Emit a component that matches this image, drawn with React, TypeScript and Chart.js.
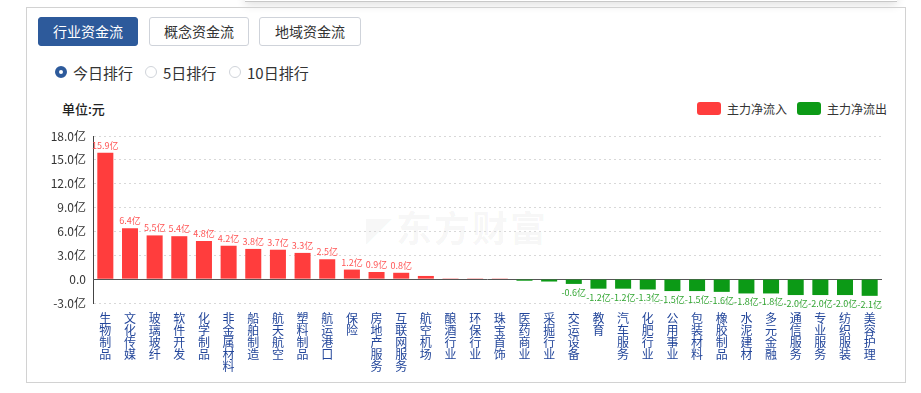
import React, { useEffect, useRef } from "react";
import { Chart, registerables } from "chart.js";

Chart.register(...registerables);

const categories: string[] = [
  "生物制品", "文化传媒", "玻璃玻纤", "软件开发", "化学制品", "非金属材料", "船舶制造", "航天航空",
  "塑料制品", "航运港口", "保险", "房地产服务", "互联网服务", "航空机场", "酿酒行业", "环保行业",
  "珠宝首饰", "医药商业", "采掘行业", "交运设备", "教育", "汽车服务", "化肥行业", "公用事业",
  "包装材料", "橡胶制品", "水泥建材", "多元金融", "通信服务", "专业服务", "纺织服装", "美容护理",
];

// 主力净流入/流出 (亿元)
const netFlows: number[] = [
  15.9, 6.4, 5.5, 5.4, 4.8, 4.2, 3.8, 3.7,
  3.3, 2.5, 1.2, 0.9, 0.8, 0.4, 0.1, 0.1,
  0.03, -0.2, -0.3, -0.6, -1.2, -1.2, -1.3, -1.5,
  -1.5, -1.6, -1.8, -1.8, -2.0, -2.0, -2.0, -2.1,
];

const yMin = -3;
const yMax = 18;
const yStep = 3;

const tabs: string[] = ["行业资金流", "概念资金流", "地域资金流"];
const rankOptions: string[] = ["今日排行", "5日排行", "10日排行"];
const legendItems: string[] = ["主力净流入", "主力净流出"];

const RED = "#ff3d3d";
const GREEN = "#0c9a16";
const FONT = "'Microsoft YaHei', 'Noto Sans CJK SC', sans-serif";

const zeroLinePlugin = {
  id: "zeroLine",
  beforeDatasetsDraw(chart: any) {
    const { ctx, chartArea, scales } = chart;
    const y0 = Math.round(scales.y.getPixelForValue(0)) + 0.5;
    ctx.save();
    ctx.strokeStyle = "#555";
    ctx.lineWidth = 1;
    ctx.beginPath();
    ctx.moveTo(chartArea.left, y0);
    ctx.lineTo(chartArea.right, y0);
    ctx.stroke();
    ctx.restore();
  },
};

const valueLabelPlugin = {
  id: "valueLabels",
  afterDatasetsDraw(chart: any) {
    const ctx = chart.ctx;
    const meta = chart.getDatasetMeta(0);
    ctx.save();
    ctx.font = `9px ${FONT}`;
    ctx.textAlign = "center";
    meta.data.forEach((bar: any, i: number) => {
      const v = netFlows[i];
      if (Math.abs(v) < 0.5) return;
      const text = v.toFixed(1) + "亿";
      if (v > 0) {
        ctx.fillStyle = "#ff5555";
        ctx.textBaseline = "bottom";
        ctx.fillText(text, bar.x, bar.y - 3);
      } else {
        ctx.fillStyle = "#33a633";
        ctx.textBaseline = "top";
        ctx.fillText(text, bar.x, bar.y + 4);
      }
    });
    ctx.restore();
  },
};

function BarChart() {
  const ref = useRef<HTMLCanvasElement | null>(null);
  useEffect(() => {
    if (!ref.current) return;
    Chart.defaults.font.family = FONT;
    const chart = new Chart(ref.current, {
      type: "bar",
      data: {
        labels: categories,
        datasets: [
          {
            data: netFlows,
            backgroundColor: netFlows.map((v) => (v >= 0 ? RED : GREEN)),
            borderWidth: 0,
            categoryPercentage: 1,
            barPercentage: 0.65,
          },
        ],
      },
      options: {
        responsive: false,
        animation: false,
        layout: { padding: { top: 16, right: 22, left: 0, bottom: 0 } },
        plugins: { legend: { display: false }, tooltip: { enabled: false } },
        scales: {
          x: {
            grid: { display: false, drawTicks: false },
            border: { display: false },
            ticks: {
              autoSkip: false,
              maxRotation: 0,
              minRotation: 0,
              padding: 9,
              color: "#23469a",
              font: { size: 12, lineHeight: 1.0 },
              callback: (_v: any, i: number) => categories[i].split(""),
            },
            afterFit: (s: any) => {
              s.height = 78;
            },
          },
          y: {
            min: yMin,
            max: yMax,
            grid: {
              drawTicks: false,
              color: (c: any) => (c.tick && c.tick.value === 0 ? "rgba(0,0,0,0)" : "#d8d8d8"),
            },
            border: { display: true, color: "#444", dash: [2, 3] },
            ticks: {
              stepSize: yStep,
              padding: 7,
              color: "#333",
              font: { size: 12 },
              callback: (v: any) => (v === 0 ? "0.0" : Number(v).toFixed(1) + "亿"),
            },
            afterFit: (s: any) => {
              s.width = 66;
            },
          },
        },
      },
      plugins: [zeroLinePlugin, valueLabelPlugin],
    });
    return () => chart.destroy();
  }, []);
  return <canvas ref={ref} width={877} height={261} style={{ display: "block" }} />;
}

export default function App() {
  return (
    <div
      style={{
        position: "absolute",
        left: 0,
        top: 0,
        width: 921,
        height: 393,
        background: "#fff",
        overflow: "hidden",
        fontFamily: FONT,
        color: "#333",
      }}
    >
      {/* floating element shadow at top */}
      <div
        style={{
          position: "absolute",
          left: 245,
          top: -20,
          width: 652,
          height: 21,
          background: "#fff",
          borderBottom: "1px solid #c8c8c8",
          boxShadow: "0 3px 10px rgba(0,0,0,0.12)",
        }}
      />
      {/* panel */}
      <div
        style={{
          position: "absolute",
          left: 26,
          top: 7,
          width: 878,
          height: 374,
          border: "1px solid #d2d2d2",
          background: "transparent",
        }}
      />
      {/* tabs */}
      {tabs.map((t, i) => {
        const lefts = [38, 149, 259];
        const active = i === 0;
        return (
          <div
            key={t}
            style={{
              position: "absolute",
              left: lefts[i],
              top: 17,
              width: i === 2 ? 102 : 100,
              height: 29,
              boxSizing: "border-box",
              borderRadius: 3,
              border: active ? "1px solid #2d5a9b" : "1px solid #cfd3da",
              background: active ? "#2d5a9b" : "#fff",
              color: active ? "#fff" : "#333",
              fontSize: 14,
              lineHeight: "27px",
              textAlign: "center",
            }}
          >
            {t}
          </div>
        );
      })}
      {/* radio options */}
      {rankOptions.map((r, i) => {
        const lefts = [55, 145, 229];
        const sel = i === 0;
        return (
          <div
            key={r}
            style={{
              position: "absolute",
              left: lefts[i],
              top: 62,
              height: 20,
              display: "flex",
              alignItems: "center",
              fontSize: 15,
              color: "#333",
              whiteSpace: "nowrap",
            }}
          >
            <span
              style={{
                display: "inline-block",
                width: 12,
                height: 12,
                boxSizing: "border-box",
                borderRadius: "50%",
                border: sel ? "4px solid #2d5a9b" : "1px solid #d0d4da",
                background: "#fff",
                marginRight: 6,
              }}
            />
            {r}
          </div>
        );
      })}
      {/* unit */}
      <div
        style={{
          position: "absolute",
          left: 62,
          top: 99,
          fontSize: 13,
          fontWeight: 500,
          color: "#222",
          whiteSpace: "nowrap",
        }}
      >
        单位:元
      </div>
      {/* legend */}
      {legendItems.map((l, i) => {
        const lefts = [697, 797];
        return (
          <div
            key={l}
            style={{
              position: "absolute",
              left: lefts[i],
              top: 100,
              height: 16,
              display: "flex",
              alignItems: "center",
              fontSize: 12,
              color: "#333",
              whiteSpace: "nowrap",
            }}
          >
            <span
              style={{
                display: "inline-block",
                width: 24,
                height: 13,
                borderRadius: 3,
                background: i === 0 ? RED : GREEN,
                marginRight: 6,
              }}
            />
            {l}
          </div>
        );
      })}
      {/* watermark */}
      <div
        style={{
          position: "absolute",
          left: 366,
          top: 200,
          fontSize: 36,
          fontWeight: "bold",
          color: "rgba(0,0,0,0.045)",
          whiteSpace: "nowrap",
          letterSpacing: 2,
        }}
      >
        <span style={{ fontSize: 26, marginRight: 2 }}>◤</span>东方财富
      </div>
      {/* chart */}
      <div style={{ position: "absolute", left: 27, top: 120, width: 877, height: 261 }}>
        <BarChart />
      </div>
    </div>
  );
}
